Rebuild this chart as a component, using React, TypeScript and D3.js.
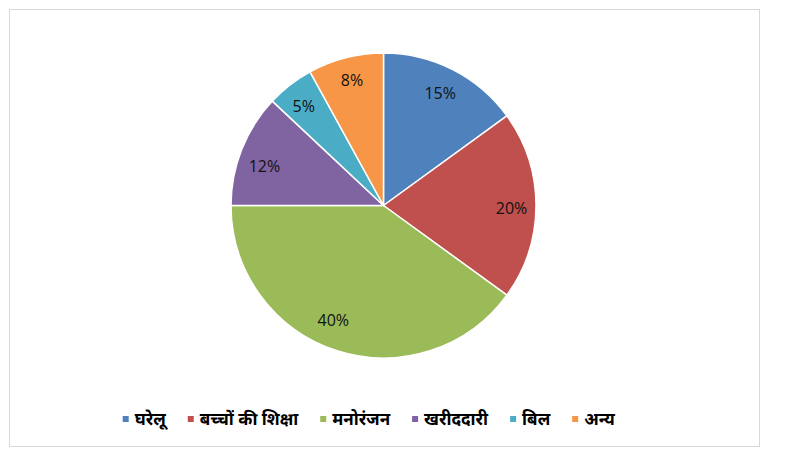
import React, { useEffect, useRef } from "react";
import * as d3 from "d3";

const categories = ["घरेलू", "बच्चों की शिक्षा", "मनोरंजन", "खरीददारी", "बिल", "अन्य"];
const values = [15, 20, 40, 12, 5, 8];
const colors = ["#4F81BD", "#C0504D", "#9BBB59", "#8064A2", "#4BACC6", "#F79646"];
// small best-fit nudges for data labels (style)
const labelNudge: [number, number][] = [[-1, 1], [1, 2], [-11, -6], [-1, 7], [-2, 1], [0, -3]];

const W = 809;
const H = 458;

export default function App() {
  const ref = useRef<SVGSVGElement | null>(null);

  useEffect(() => {
    const svg = d3.select(ref.current);
    svg.selectAll("*").remove();

    svg
      .append("rect")
      .attr("x", 9.5)
      .attr("y", 9.5)
      .attr("width", 750)
      .attr("height", 437)
      .attr("fill", "#fff")
      .attr("stroke", "#d9d9d9")
      .attr("stroke-width", 1);

    const cx = 383.5;
    const cy = 205.5;
    const R = 152.5;

    const pie = d3
      .pie<number>()
      .sort(null)
      .value((d) => d);
    const arcs = pie(values);
    const arc = d3.arc<d3.PieArcDatum<number>>().innerRadius(0).outerRadius(R);
    const labelArc = d3
      .arc<d3.PieArcDatum<number>>()
      .innerRadius(127)
      .outerRadius(127);

    const g = svg.append("g").attr("transform", `translate(${cx},${cy})`);
    g.selectAll("path")
      .data(arcs)
      .enter()
      .append("path")
      .attr("d", arc)
      .attr("fill", (_d, i) => colors[i])
      .attr("stroke", "#fff")
      .attr("stroke-width", 1.5)
      .attr("stroke-linejoin", "round");

    const total = d3.sum(values);
    g.selectAll("text")
      .data(arcs)
      .enter()
      .append("text")
      .attr("x", (d, i) => labelArc.centroid(d)[0] + labelNudge[i][0])
      .attr("y", (d, i) => labelArc.centroid(d)[1] + labelNudge[i][1])
      .attr("text-anchor", "middle")
      .attr("dominant-baseline", "central")
      .attr("font-family", "'Open Sans', 'Noto Sans', sans-serif")
      .attr("font-size", 16)
      .attr("fill", "#111")
      .text((d) => `${Math.round((d.data / total) * 100)}%`);

    // legend
    const lg = svg.append("g");
    const sq = 6;
    const gapSqText = 6;
    const gapItems = 22;
    let x = 0;
    categories.forEach((c, i) => {
      const item = lg.append("g").attr("transform", `translate(${x},0)`);
      item
        .append("rect")
        .attr("x", 0)
        .attr("y", 416)
        .attr("width", sq)
        .attr("height", sq)
        .attr("fill", colors[i]);
      const t = item
        .append("text")
        .attr("x", sq + gapSqText)
        .attr("y", 425)
        .attr("font-family", "'Noto Sans Devanagari', 'Lohit Devanagari', 'Mangal', 'Noto Sans', sans-serif")
        .attr("font-weight", "bold")
        .attr("font-size", 17)
        .attr("fill", "#000")
        .text(c);
      const w = (t.node() as SVGTextElement).getComputedTextLength();
      x += sq + gapSqText + w + gapItems;
    });
    const totalW = x - gapItems;
    lg.attr("transform", `translate(${368.7 - totalW / 2},0)`);
  }, []);

  return (
    <svg
      ref={ref}
      width={W}
      height={H}
      style={{ position: "absolute", left: 0, top: 0, display: "block", background: "#fff" }}
    />
  );
}
